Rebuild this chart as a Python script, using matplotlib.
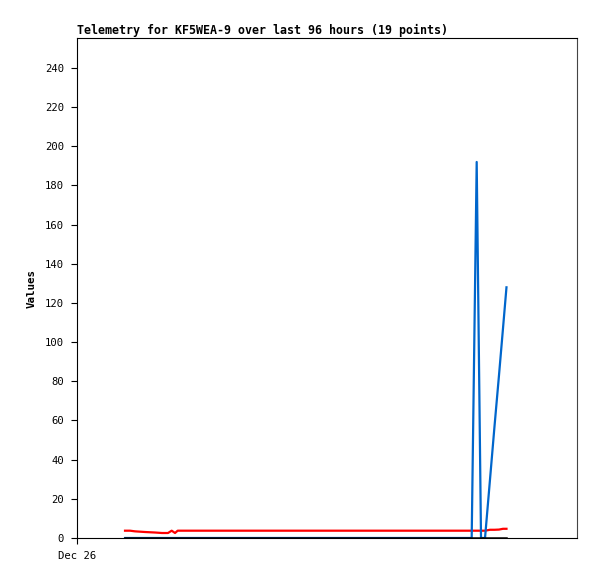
import matplotlib
matplotlib.use("Agg")
import matplotlib.pyplot as plt

# hours since Dec 26 00:00 (96 hour window)
hours = [9.22, 10.18, 11.14, 13.06, 14.98, 16.32, 17.47, 18.18, 18.82, 19.33,
         75.78, 76.74, 77.57, 78.34, 79.30, 80.16, 81.02, 81.79, 82.46]
red_vals = [3.73, 3.73, 3.4, 3.06, 2.8, 2.55, 2.55, 3.73, 2.55, 3.73,
            3.73, 3.73, 3.73, 3.73, 4.2, 4.2, 4.3, 4.7, 4.7]
blue_vals = [0, 0, 0, 0, 0, 0, 0, 0, 0, 0,
             0, 192, 0, 0, 30, 57, 83, 107, 128]
black_vals = [0] * 19

x_ticks = [0]
x_labels = ["Dec 26"]
y_ticks = list(range(0, 241, 20))

plt.rcParams['font.family'] = ['DejaVu Sans Mono']

fig = plt.figure(figsize=(5.97, 5.79), dpi=100)
ax = fig.add_axes([77 / 597, 41 / 579, 500 / 597, 500 / 579])

ax.plot(hours, red_vals, color="#ff0000", lw=1.6, zorder=2)
ax.plot(hours, blue_vals, color="#0066cc", lw=1.6, zorder=3)
ax.plot(hours, black_vals, color="#000000", lw=1.8, zorder=4)

ax.set_xlim(0, 96)
ax.set_ylim(0, 255.3)
ax.set_yticks(y_ticks)
ax.set_xticks(x_ticks)
ax.set_xticklabels(x_labels)
ax.tick_params(axis="both", direction="out", length=4.3, width=0.8,
               labelsize=7.6, pad=5)

for s in ax.spines.values():
    s.set_linewidth(0.8)
    s.set_color("black")
ax.spines["right"].set_color("#444444")

ax.set_ylabel("Values", fontsize=7.8, fontweight="bold", labelpad=6)
ax.set_title("Telemetry for KF5WEA-9 over last 96 hours (19 points)",
             loc="left", fontsize=8.4, fontweight="bold", pad=3)

fig.savefig("out.png", dpi=100)
